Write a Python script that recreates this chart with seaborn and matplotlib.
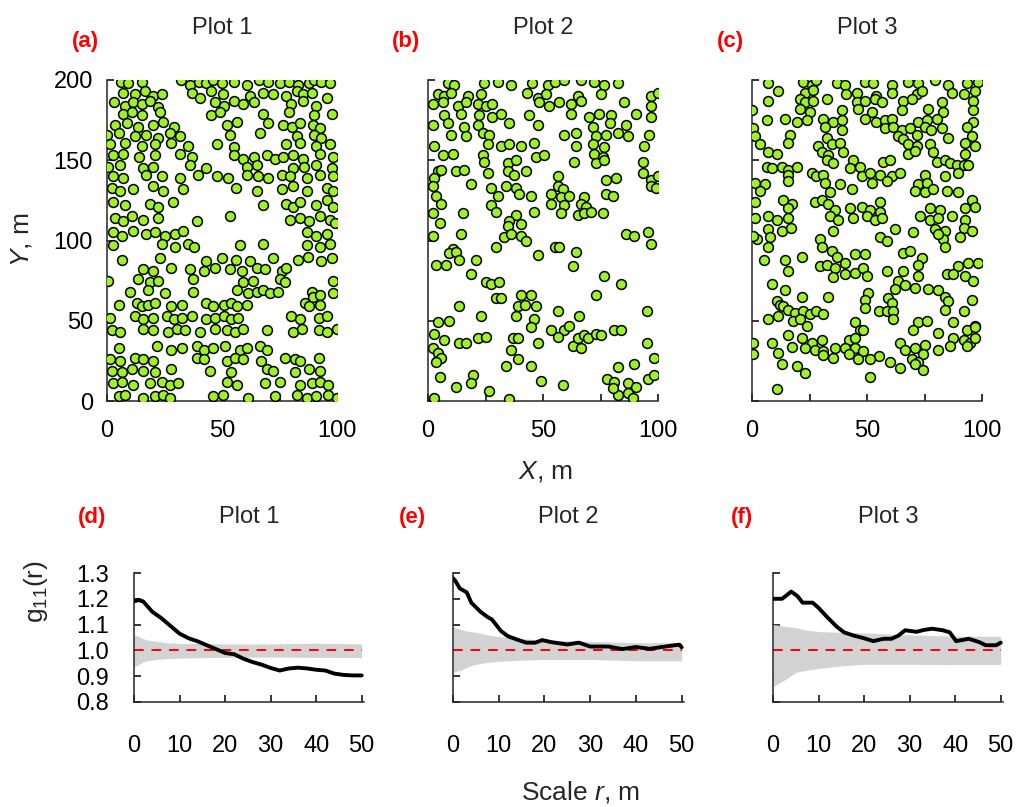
import matplotlib
matplotlib.use("Agg")
import matplotlib.pyplot as plt
import numpy as np
import pandas as pd
import seaborn as sns

# ---------------- data: tree positions (X, Y in m) ----------------
plot1_xy = [
    (6, 199), (9, 198), (15, 199), (32, 200), (36, 197), (40, 199), (43, 198), (46, 200), (50, 198), (55, 199),
    (61, 197), (66, 200), (70, 199), (75, 198), (79, 199), (83, 197), (88, 198), (90, 200), (93, 199), (97, 198),
    (7, 192), (12, 191), (16.5, 193), (20, 190), (24, 191), (37, 192), (40.5, 189), (45, 193), (50.6, 191), (62, 190),
    (68, 192), (72, 191), (78, 190), (82.5, 193), (85, 191), (89, 192), (95.5, 189),
    (3, 186), (8, 184), (11.4, 186), (15, 185), (18.7, 187), (22.3, 183), (47, 186), (51, 184), (55, 187), (59, 185),
    (64, 186), (80, 185), (85, 187), (91, 184),
    (7, 179), (10.7, 180), (15, 178), (23, 180), (45, 178), (49, 180), (68, 179), (79, 180), (90, 178), (98, 179),
    (3.5, 172), (8.5, 173), (13.6, 171), (20, 172), (24.5, 174), (29, 171), (52, 172), (56.5, 174), (70, 173),
    (76.7, 172), (80.3, 171), (84, 173), (89.7, 172), (92.6, 170),
    (0, 166), (5, 167), (12, 165), (17, 166), (22, 164), (27.4, 167), (31.7, 165), (53.5, 166), (66.5, 167),
    (82.5, 165), (90, 166), (93, 164),
    (1.3, 160), (7.8, 161), (15, 159), (21, 160), (28, 161), (35, 159), (47.7, 160), (55, 158), (78, 160), (84, 161),
    (91, 159), (97, 160),
    (2.8, 153), (7, 154), (14, 152), (21, 153), (31.7, 154), (36.8, 152), (55, 153), (59, 151), (64, 152), (69.4, 153),
    (73, 151), (76.7, 152), (81, 153), (85.4, 151), (92.6, 154), (98.4, 152),
    (0.6, 146), (5.7, 147), (15.8, 145), (20, 146), (36, 147), (43, 145), (60.7, 146), (65, 147), (81, 145),
    (85.5, 146), (91, 147), (97.7, 145),
    (2.8, 140), (7, 139), (17, 141), (24, 140), (31.7, 139), (39.7, 141), (47.7, 140), (52.7, 139), (60.7, 141),
    (65.8, 140), (70, 139), (76, 141), (79.5, 140), (86.8, 139), (92.6, 141), (98.4, 140),
    (2, 133), (5.7, 131), (11.4, 132), (20, 134), (24.5, 131), (33, 132), (56, 133), (65, 131), (76, 132), (81, 134),
    (86.8, 131), (95.5, 133), (98.4, 131),
    (2.8, 124), (7.8, 122), (18.7, 123), (22.3, 121), (28.8, 124), (68, 122), (78, 123), (81, 121), (84, 124),
    (91, 122), (95.5, 125), (98.4, 121),
    (3.5, 114), (7, 112), (10.7, 115), (15.8, 113), (22.3, 114), (39, 112), (53.5, 115), (79.5, 113), (84, 114),
    (88, 112), (92.6, 115), (97, 113), (99, 111),
    (2.8, 105), (6.4, 103), (11.4, 106), (17, 104), (21, 105), (25, 103), (29.6, 104), (33, 106), (87, 105),
    (91, 103), (95.5, 104),
    (2.8, 97), (23.8, 98), (29.6, 96), (35.4, 98), (38, 96), (57.8, 97), (68, 98), (86.8, 97), (92.6, 96), (97, 98),
    (6.4, 88), (23, 89), (43, 87), (50, 89), (56, 88), (62, 87), (72, 89), (83, 88), (87.5, 90), (93, 87), (97.7, 89),
    (15.8, 82), (20, 81), (28, 83), (36, 82), (42, 81), (47, 83), (53.5, 82), (58.5, 81), (65, 83), (68.7, 82),
    (76, 81), (78, 83),
    (0.6, 75), (13.6, 76), (18.7, 74), (22.3, 75), (37.5, 76), (59, 74), (63.5, 75), (75, 76), (77.4, 74), (98.4, 75),
    (10, 68), (18, 69), (25, 67), (37.5, 68), (56.4, 69), (61.4, 67), (65, 68), (68, 69), (71, 67), (74.5, 68),
    (89, 68), (98.4, 67), (89.7, 65), (92.6, 66),
    (5, 60), (13, 61), (15, 59), (18, 60), (21, 61), (28, 59), (32.5, 60), (43, 61), (46, 59), (51, 60), (54, 61),
    (56.4, 59), (60.7, 60), (86, 61), (88, 59), (92.6, 60),
    (1.3, 52), (12, 53), (15.8, 51), (20, 52), (26, 53), (29, 51), (32.5, 52), (36.8, 53), (43, 51), (47, 52),
    (51, 53), (54, 51), (57, 52), (80, 53), (84, 51), (92, 52), (95.5, 53),
    (2, 44), (5.7, 43), (15.8, 45), (20, 44), (26.7, 43), (30.3, 45), (33.9, 44), (40.4, 43), (47, 45), (52, 44),
    (55.6, 43), (59.3, 45), (69.4, 44), (81, 43), (84.6, 45), (92, 44), (95.5, 43), (99.9, 45),
    (5, 33), (21.6, 34), (28, 32), (32.5, 33), (39, 34), (42, 32), (46, 33), (51.3, 34), (57.8, 32), (60.7, 33),
    (66.5, 34), (69.4, 32),
    (1.3, 26), (5.7, 25), (12, 27), (15.8, 26), (20, 25), (39, 27), (42, 26), (52, 25), (55.6, 27), (59.3, 26),
    (67, 25), (77.4, 27), (81.7, 26), (84, 25), (92, 27),
    (2, 19), (6.4, 18), (10.7, 20), (15.8, 19), (20.9, 18), (28, 20), (44.8, 19), (54, 18), (69.4, 20), (72.3, 19),
    (81.7, 18), (88, 20), (92.6, 19),
    (2.8, 11), (6.4, 12), (11.4, 10), (18.7, 11), (23.8, 12), (27.4, 10), (31, 11), (52, 12), (56.4, 10), (68.7, 11),
    (75, 12), (84, 10), (89, 11), (92.6, 12), (96, 10),
    (5, 3), (7.8, 4), (15.8, 2), (20.9, 3), (24.5, 4), (27.4, 2), (46, 3), (50.6, 4), (61.4, 2), (73, 3), (82.5, 4),
    (86.8, 2), (91, 3), (96, 4), (99.9, 2),
]

plot2_xy = [
    (8.6, 198), (11.4, 197), (24.5, 198), (30.3, 199), (36, 197), (45, 198), (52, 197), (55, 199), (59, 200),
    (66.5, 200), (72.3, 199), (76.7, 197), (82.5, 198),
    (4.2, 191), (7, 190), (10, 192), (17.3, 190), (23, 191), (43, 192), (47.7, 189), (51.3, 191), (65, 190),
    (75, 191), (97, 190), (100, 192),
    (2, 185), (6.4, 186), (13, 184), (16.5, 186), (21.6, 185), (25.2, 184), (28, 185), (48.4, 186), (52.7, 184),
    (57, 186), (62, 185), (66.5, 187), (85.4, 186), (97, 184),
    (7, 178), (14.3, 179), (22.3, 178), (28, 177), (31.7, 179), (44, 178), (62, 179), (70, 177), (74.5, 179),
    (79.5, 178), (90.4, 179), (97, 177),
    (2, 172), (8.6, 173), (15.8, 171), (21.6, 172), (35.4, 173), (47.7, 172), (71.6, 171), (79, 173), (86, 172),
    (10, 166), (16.5, 165), (23.8, 167), (26.7, 166), (59.3, 166), (64.3, 167), (73, 165), (77.4, 166), (82.5, 167),
    (86.8, 165), (96, 166),
    (2.8, 159), (26, 160), (31.7, 159), (35.4, 160), (40.4, 159), (46, 161), (64.3, 159), (71.6, 160), (76.7, 158),
    (94, 159),
    (6.4, 153), (10.7, 154), (23.8, 153), (47, 152), (50.6, 153), (72.3, 154), (76, 152),
    (24.5, 149), (34.6, 148), (38.3, 150), (63.6, 149), (73, 148), (76.7, 150), (93.3, 149),
    (4.2, 143), (5.7, 144), (12.2, 143), (15.8, 144), (26, 142), (34.6, 143), (37.5, 141), (42.6, 143), (93.3, 142),
    (2.8, 139), (56.4, 140), (77.4, 138), (81.7, 139), (97, 138), (100, 140),
    (2, 134), (18.7, 135), (27.4, 133), (34, 134), (38.3, 133), (56.4, 134), (58.5, 132), (97, 134), (99, 133),
    (3.5, 128), (30.3, 128), (39.7, 129), (44.8, 128), (53.5, 129), (57.8, 127), (61.4, 128), (68, 127),
    (77.4, 129), (80.3, 128),
    (5.7, 123), (27.4, 122), (53.5, 123), (59.3, 122), (66.5, 123), (68.7, 121),
    (2, 117), (15, 117), (29.6, 118), (38.3, 116), (46, 118), (57.8, 117), (65, 116), (68, 117), (70.9, 118), (76, 117),
    (5, 111), (35.4, 112), (40.4, 110), (34.6, 109),
    (2, 103), (14.3, 104), (33.2, 102), (36, 104), (40.4, 103), (86, 104), (89.7, 103), (95.5, 105), (42.6, 100),
    (97, 98),
    (10.7, 95), (9.3, 92), (12.2, 93), (29.6, 96), (55, 96), (57, 96), (64.3, 93),
    (3.5, 85), (7.8, 85), (13.6, 88), (21, 88), (47.7, 91), (63, 84),
    (18.7, 79), (25, 74), (27.4, 73), (31, 74), (76.7, 78), (84, 73),
    (29.6, 64), (31.7, 64), (40.4, 66), (44.8, 66), (47, 59), (73, 66), (13.6, 59), (39, 59), (42, 60),
    (56.4, 56), (65.8, 53), (95, 56), (23, 53), (38.3, 53), (46, 51),
    (4.2, 49), (9.3, 50), (44.8, 46), (53.5, 44), (59.3, 44), (61.4, 47), (81, 44), (84, 44),
    (2.8, 42), (7, 38), (13.6, 36), (16.5, 36), (21.6, 39), (25, 40), (37, 39), (39, 39), (56.4, 40), (63, 34),
    (65, 39), (68, 41), (69.4, 39), (73, 42), (75.2, 41), (47.7, 36), (95, 36),
    (2, 33), (4.2, 30), (5.7, 27), (3.5, 24), (36, 32), (39, 26), (66.5, 33),
    (34, 22), (44.8, 22), (82.5, 21), (89.7, 23), (98.4, 27), (19.4, 16.5), (78, 14), (81, 12),
    (5, 15), (18.7, 11), (49, 12.7), (58.5, 10), (86.8, 11), (90.4, 9), (95.5, 14), (98.4, 16.5),
    (12, 9), (26.7, 6.5), (35.4, 1), (2.8, 2), (82.5, 4), (86.8, 5), (89, 2), (80.3, 8),
]

plot3_xy = [
    (7, 198), (22.3, 199), (26, 197), (28, 200), (36.8, 198), (40.4, 197), (49, 199), (52.7, 198), (60.7, 197),
    (68, 199), (72.3, 198), (79.5, 200), (85.4, 197), (93.3, 198), (98.4, 199),
    (11.4, 193), (23, 192), (26.7, 194), (41, 191), (45.5, 192), (54, 190), (60.7, 192), (71.6, 191), (73.8, 193),
    (86.8, 192), (92, 191), (97, 193),
    (7, 187), (21, 188), (23, 186), (26.7, 187), (32.5, 188), (45.5, 186), (49, 187), (53.5, 188), (56.4, 186),
    (65.8, 187), (69.4, 188), (82.5, 186), (96, 187),
    (0, 181), (21, 182), (25.2, 180), (39, 181), (46.3, 182), (52, 180), (65, 181), (76.7, 182), (83, 180), (96, 181),
    (6.4, 175), (14.3, 176), (19.4, 174), (23.8, 175), (31, 176), (35.4, 174), (39, 175), (49, 176), (54, 174),
    (58, 175), (60.7, 176), (72.3, 174), (76, 175), (80.3, 176), (96, 174),
    (0.6, 170), (31.7, 171), (39, 169), (58, 170), (61.4, 171), (65, 169), (68.7, 170), (75, 171), (78, 169),
    (82.5, 170), (93.3, 171),
    (1.3, 165), (16.5, 166), (32.5, 164), (63.6, 165), (65.8, 163), (71.6, 166), (85.4, 164), (95.5, 165),
    (3.5, 160), (15.8, 161), (28.8, 159), (34.6, 160), (38.3, 161), (68, 160), (71.6, 159), (77.4, 160), (92.6, 161),
    (97, 159),
    (7, 155), (10.7, 154), (30.3, 155), (33.2, 153), (39.7, 155), (68, 154), (70.9, 156), (78.8, 155), (92.6, 154),
    (32.5, 150), (35.4, 148), (44, 150), (57, 149), (60, 150), (80.3, 149), (84, 150), (86, 148), (89, 147),
    (92, 147), (94, 147),
    (6.4, 146), (8.6, 145), (13, 146), (15.8, 144), (19.4, 146), (42.6, 145), (47, 146),
    (15.8, 141), (26, 142), (28, 140), (31, 141), (47.7, 140), (51.3, 142), (55.6, 141), (60.7, 140), (64.3, 142),
    (75, 141), (84, 140), (89.7, 142),
    (1.3, 136), (5.7, 135), (15.8, 137), (31.7, 136), (38.3, 135), (52, 136), (58.5, 137), (72.3, 135), (76, 136),
    (3.5, 131), (33.9, 130), (43.3, 132), (70.9, 131), (75, 130), (78.8, 132), (84.6, 131), (89.7, 130),
    (1.3, 124), (13.6, 125), (17.3, 123), (27.4, 124), (30.3, 125), (33.2, 123), (55.6, 124), (95.5, 125),
    (15.8, 120), (36, 119), (42.6, 120), (47.7, 121), (51.3, 119), (55.6, 118), (77.4, 120), (81.7, 119),
    (92.6, 120), (97, 121),
    (1.3, 114), (7, 115), (10.7, 113), (15.8, 114), (33.9, 115), (37.5, 113), (44, 114), (49.9, 115), (53.5, 113),
    (56.4, 114), (73, 115), (77.4, 113), (81, 114), (86.8, 115), (92.6, 113),
    (7, 107), (13, 106), (17, 108), (35.4, 106), (62, 107), (70, 105), (79.5, 107), (84, 106), (92, 108), (95.5, 106),
    (2, 101), (7.8, 102), (29.6, 101), (55.6, 102), (58.5, 100), (83, 101), (90.4, 102), (0.6, 103), (81, 104),
    (7, 96), (30.3, 96), (84, 96),
    (5, 88), (14.3, 88), (21.6, 90), (29.6, 84), (32.5, 85), (34.6, 93.5), (37, 90), (40.4, 86), (44.8, 91.4),
    (49, 91.4), (65.8, 92.5), (68.7, 93.5), (73.8, 89), (72.3, 85), (89.7, 84), (94, 86), (98.4, 86),
    (15.8, 81), (36, 83), (40.4, 79), (44.8, 80), (48.4, 83), (50, 78), (58.5, 81), (65.8, 81), (72.3, 78),
    (84.6, 79), (87.5, 79), (92.6, 78), (96, 75),
    (8.6, 73), (14.3, 69), (35.4, 77), (63.6, 75), (62.2, 69.5), (66.5, 72), (70.9, 70.6), (76.7, 70), (81, 69),
    (50.6, 67.5),
    (10.7, 62), (21.6, 65), (33.2, 65), (49, 63), (59.3, 64), (84, 65), (95.5, 63), (60.7, 61), (85.4, 62),
    (12, 60), (13.6, 59), (15.8, 57), (18.7, 55), (22.3, 56), (25.2, 54), (28, 56), (31, 54), (49, 58), (55, 56),
    (58.5, 56), (61.4, 56), (84, 56.6), (92, 56),
    (7, 51), (11.4, 53), (18, 50), (21, 51), (23.8, 47), (61.4, 51), (72.3, 49), (76, 50), (87.5, 49), (97, 47),
    (44.8, 49), (47, 44), (48.4, 44), (70, 44), (81, 42.5), (93.3, 44), (97, 46),
    (0.6, 36), (8.6, 36), (15.8, 41), (21.6, 39), (26, 36), (30.3, 38), (42, 38), (44.8, 39), (64.3, 36), (75.2, 35),
    (87.5, 39), (92, 38), (94.8, 36), (97, 39),
    (0.6, 29), (11.4, 30), (17.3, 33.5), (23, 33), (27.4, 32), (31, 31), (36, 33), (40.4, 33), (44.8, 33),
    (48.4, 31), (55, 28), (66.5, 32), (70.9, 33), (81, 32), (86, 34), (93.3, 34),
    (31, 28.5), (35.4, 27), (42, 29), (46.3, 26), (51.3, 26), (69.4, 26), (74.5, 29), (72.3, 24),
    (13, 23), (19.4, 22), (23, 17.5), (51.3, 15), (60, 24), (64.3, 20.6), (70.9, 23), (74.5, 19.5),
    (10.7, 7.5),
]

# ---------------- data: pair-correlation g11(r) ----------------
r_plot1 = [0, 1, 2, 3, 4, 6, 8, 10, 12, 14, 16, 18, 20, 22, 24, 26, 28, 30, 32, 34, 36, 38, 40, 42, 44, 46, 48, 50]
g_plot1 = [1.19, 1.195, 1.19, 1.17, 1.15, 1.125, 1.095, 1.065, 1.047, 1.035, 1.02, 1.005, 0.99, 0.985, 0.968,
           0.955, 0.945, 0.932, 0.922, 0.93, 0.933, 0.93, 0.925, 0.922, 0.91, 0.905, 0.903, 0.903]

r_plot2 = [0, 0.5, 1.5, 3, 4, 6, 7.5, 8.5, 10.5, 12, 14, 16, 18, 19.5, 21.5, 25, 27.5, 30, 34, 37, 40, 43, 46,
           48.5, 49.5, 50]
g_plot2 = [1.28, 1.27, 1.24, 1.225, 1.185, 1.15, 1.13, 1.12, 1.075, 1.055, 1.042, 1.03, 1.03, 1.04, 1.032, 1.023,
           1.03, 1.015, 1.015, 1.005, 1.013, 1.006, 1.014, 1.02, 1.022, 1.012]

r_plot3 = [0, 2, 4, 5.4, 6.5, 8.7, 10, 12, 14, 15.6, 17.8, 20, 22, 24.3, 26, 27.5, 29, 31.5, 33.3, 35, 37.3, 38.8,
           40.2, 43, 45.3, 46.7, 49, 50]
g_plot3 = [1.2, 1.2, 1.228, 1.21, 1.185, 1.185, 1.165, 1.127, 1.092, 1.07, 1.057, 1.047, 1.036, 1.045, 1.045,
           1.057, 1.078, 1.072, 1.08, 1.084, 1.078, 1.07, 1.036, 1.045, 1.032, 1.02, 1.02, 1.03]

# simulation envelopes (null model)
env_r = [0, 1, 2, 3, 5, 7, 10, 15, 20, 30, 40, 50]
env_hi_plot1 = [1.06, 1.055, 1.045, 1.04, 1.035, 1.03, 1.027, 1.027, 1.025, 1.025, 1.028, 1.025]
env_lo_plot1 = [0.935, 0.945, 0.955, 0.96, 0.965, 0.968, 0.97, 0.972, 0.973, 0.974, 0.973, 0.972]
env_hi_plot2 = [1.09, 1.085, 1.08, 1.075, 1.07, 1.062, 1.054, 1.045, 1.04, 1.035, 1.03, 1.03]
env_lo_plot2 = [0.915, 0.92, 0.925, 0.935, 0.946, 0.952, 0.958, 0.962, 0.965, 0.965, 0.96, 0.96]
env_hi_plot3 = [1.10, 1.098, 1.095, 1.092, 1.088, 1.08, 1.073, 1.07, 1.068, 1.06, 1.055, 1.055]
env_lo_plot3 = [0.86, 0.87, 0.88, 0.89, 0.915, 0.922, 0.93, 0.94, 0.946, 0.946, 0.945, 0.945]

plot_names = ["Plot 1", "Plot 2", "Plot 3"]
top_letters = ["(a)", "(b)", "(c)"]
bottom_letters = ["(d)", "(e)", "(f)"]

# ---------------- style ----------------
sns.set_style("ticks")
plt.rcParams["font.family"] = ["Liberation Sans", "DejaVu Sans"]
plt.rcParams["mathtext.fontset"] = "custom"
plt.rcParams["mathtext.rm"] = "Liberation Sans"
plt.rcParams["mathtext.it"] = "Liberation Sans:italic"
plt.rcParams["axes.linewidth"] = 1.1

W, H = 1017, 807
TICK_FS = 17
TITLE_FS = 17
LABEL_FS = 19
POINT_GREEN = "#9df02a"

fig = plt.figure(figsize=(W / 100, H / 100), dpi=100)


def axes_px(left, top, right, bottom):
    return fig.add_axes([left / W, 1 - bottom / H, (right - left) / W, (bottom - top) / H])


def text_px(x, y, s, **kw):
    fig.text(x / W, 1 - y / H, s, ha="center", va="center", **kw)


def style_axes(ax):
    sns.despine(ax=ax)
    ax.tick_params(direction="in", length=5, width=1.1, colors="black", labelsize=TICK_FS)
    ax.set_xlabel("")
    ax.set_ylabel("")


# ---------------- top row: point maps ----------------
top_boxes = [(107, 80, 337, 401), (428, 80, 658, 401), (752, 80, 982, 401)]
for i, (pts, box) in enumerate(zip([plot1_xy, plot2_xy, plot3_xy], top_boxes)):
    ax = axes_px(*box)
    df = pd.DataFrame(pts, columns=["X", "Y"])
    sns.scatterplot(data=df, x="X", y="Y", ax=ax, color=POINT_GREEN, edgecolor="black",
                    s=50, linewidth=1.1, zorder=3)
    ax.set_xlim(0, 100)
    ax.set_ylim(0, 200)
    ax.set_xticks([0, 25, 50, 75, 100])
    ax.set_xticklabels(["0", "", "50", "", "100"])
    ax.set_yticks([0, 50, 100, 150, 200])
    if i == 0:
        ax.set_yticklabels(["0", "50", "100", "150", "200"])
    else:
        ax.set_yticklabels([])
    style_axes(ax)
    ax.tick_params(axis="x", pad=14)
    ax.tick_params(axis="y", pad=10)
    cx = (box[0] + box[2]) / 2
    text_px(cx, 28, plot_names[i], fontsize=TITLE_FS)
    text_px(box[0] - 22, 42, top_letters[i], fontsize=16, fontweight="bold", color="red")

# ---------------- bottom row: g11(r) ----------------
bottom_boxes = [(134, 573, 364, 702), (453, 573, 684, 702), (773, 573, 1003, 702)]
curves = [(r_plot1, g_plot1), (r_plot2, g_plot2), (r_plot3, g_plot3)]
envs = [(env_hi_plot1, env_lo_plot1), (env_hi_plot2, env_lo_plot2), (env_hi_plot3, env_lo_plot3)]
for i, box in enumerate(bottom_boxes):
    ax = axes_px(*box)
    hi, lo = envs[i]
    ax.fill_between(env_r, lo, hi, color="#d3d3d3", linewidth=0, zorder=1)
    ax.plot([0, 50], [1.0, 1.0], color="red", lw=1.4, dashes=(5, 4), zorder=2)
    r, g = curves[i]
    sns.lineplot(x=r, y=g, ax=ax, color="black", lw=2.8, zorder=3, sort=False)
    ax.set_xlim(0, 50.5)
    ax.set_ylim(0.8, 1.3)
    ax.set_xticks(np.arange(0, 51, 10))
    ax.set_yticks([0.8, 0.9, 1.0, 1.1, 1.2, 1.3])
    if i == 0:
        ax.set_yticklabels(["0.8", "0.9", "1.0", "1.1", "1.2", "1.3"])
    else:
        ax.set_yticklabels([])
    style_axes(ax)
    ax.tick_params(axis="x", pad=24)
    ax.tick_params(axis="y", pad=18)
    cx = (box[0] + box[2]) / 2
    text_px(cx, 517, plot_names[i], fontsize=TITLE_FS)

text_px(92, 517, bottom_letters[0], fontsize=16, fontweight="bold", color="red")
text_px(412, 517, bottom_letters[1], fontsize=16, fontweight="bold", color="red")
text_px(742, 517, bottom_letters[2], fontsize=16, fontweight="bold", color="red")

# ---------------- axis labels ----------------
text_px(545, 472, r"$\it{X}$, m", fontsize=LABEL_FS)
text_px(22, 240, r"$\it{Y}$, m", fontsize=LABEL_FS, rotation=90)
text_px(36, 592, r"g$_{11}$(r)", fontsize=LABEL_FS, rotation=90)
text_px(580, 792, r"Scale $\it{r}$, m", fontsize=LABEL_FS)

fig.savefig("out.png", dpi=100, facecolor="white")
